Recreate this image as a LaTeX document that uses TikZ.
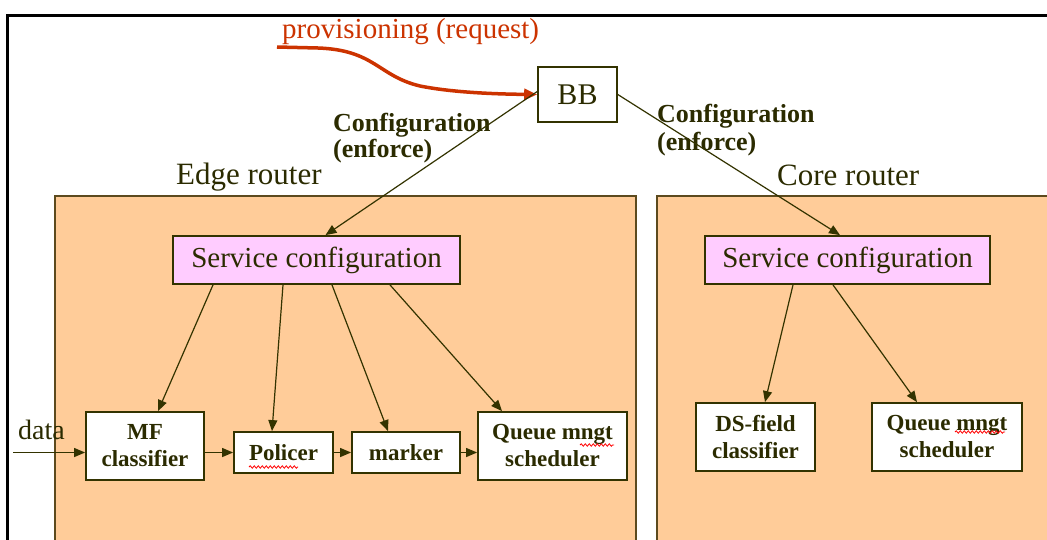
\documentclass[tikz,border=0pt]{standalone}
\usepackage{fontspec}
\setmainfont{Liberation Serif}
\usetikzlibrary{arrows.meta,calc,decorations.pathmorphing}

\definecolor{ink}{HTML}{2B2B00}
\definecolor{edgeline}{HTML}{333300}
\definecolor{routerfill}{HTML}{FFCC99}
\definecolor{routerline}{HTML}{5C4A1E}
\definecolor{svcfill}{HTML}{FFCCFF}
\definecolor{reqred}{HTML}{CC3300}

\tikzset{
  routerbox/.style={draw=routerline, line width=1.6pt, fill=routerfill},
  svcbox/.style={draw=edgeline, line width=1.8pt, fill=svcfill, inner sep=0pt,
    minimum height=48pt, text=ink, font=\fontsize{29}{31}\selectfont},
  funcbox/.style={draw=edgeline, line width=1.8pt, fill=white, inner sep=0pt,
    align=center, text=ink, font=\fontsize{23}{27}\selectfont\bfseries},
  label/.style={inner sep=0pt, text=ink},
  conn/.style={draw=edgeline, line width=1.2pt,
    -{Triangle[length=11pt,width=9pt]}},
  spell/.style={draw=red, line width=0.8pt,
    decorate, decoration={snake, amplitude=1.2pt, segment length=4pt}}
}

\begin{document}
\begin{tikzpicture}[x=1pt,y=-1pt]
  \clip (0,0) rectangle (1047,539);
  \fill[white] (0,0) rectangle (1047,539);

  % outer frame (top and left edges)
  \draw[black, line width=3pt] (7,545) -- (7,15) -- (1055,15);

  % router areas
  \draw[routerbox] (55,196) rectangle (636,560);
  \draw[routerbox] (657,196) rectangle (1070,560);
  \node[label, anchor=base west, font=\fontsize{31}{33}\selectfont] (edgelbl) at (176,184) {Edge router};
  \node[label, anchor=base west, font=\fontsize{31}{33}\selectfont] (corelbl) at (777,185) {Core router};

  % bandwidth broker
  \node[draw=edgeline, line width=1.6pt, fill=white, inner sep=0pt,
        minimum width=79pt, minimum height=55pt, text=ink,
        font=\fontsize{30}{32}\selectfont] (bb) at (577.5,94.5) {BB};

  % provisioning request
  \node[anchor=base west, inner sep=0pt, text=reqred,
        font=\fontsize{29}{31}\selectfont] (prov) at (282,38) {provisioning (request)};
  \coordinate (provstart) at (277,47);
  \draw[reqred, line width=3.5pt, -{Triangle[length=13pt,width=11pt]}]
    (provstart) -- (318,48) .. controls (375,50) and (378,76) .. (420,86)
    .. controls (450,92) and (490,94) .. (bb.west);

  % service configuration blocks
  \node[svcbox, minimum width=287pt] (svcL) at (316.5,260) {Service configuration};
  \node[svcbox, minimum width=285pt] (svcR) at (847.5,260) {Service configuration};

  % configuration labels
  \node[label, anchor=north west, align=left,
        font=\fontsize{26}{26}\selectfont\bfseries] (cfgL) at (333,113) {Configuration\\(enforce)};
  \node[label, anchor=north west, align=left,
        font=\fontsize{26}{28}\selectfont\bfseries] (cfgR) at (657,104) {Configuration\\(enforce)};

  % functional blocks, edge router
  \node[funcbox, minimum width=118pt, minimum height=68pt] (mf) at (145,446) {MF\\classifier};
  \node[funcbox, minimum width=99pt, minimum height=41pt] (pol) at (283.5,452.5) {Policer};
  \node[funcbox, minimum width=108pt, minimum height=41pt] (mark) at (406,452.5) {marker};
  \node[funcbox, minimum width=149pt, minimum height=68pt] (qL) at (552.5,446) {Queue mngt\\scheduler};

  % functional blocks, core router
  \node[funcbox, minimum width=119pt, minimum height=68pt] (ds) at (755.5,437) {DS-field\\classifier};
  \node[funcbox, minimum width=150pt, minimum height=68pt] (qR) at (947,437) {Queue mngt\\scheduler};

  % data input
  \node[label, anchor=base west, font=\fontsize{28}{30}\selectfont] (data) at (18,439) {data};
  \coordinate (datain) at (13,452.5);

  % configuration from the broker
  \draw[conn] ([yshift=3pt]bb.west) -- ([xshift=9pt]svcL.north);
  \draw[conn] (bb.east) -- ([xshift=-7.5pt]svcR.north);

  % edge router configuration
  \draw[conn] ([xshift=-103.5pt]svcL.south) -- ([xshift=13pt]mf.north);
  \draw[conn] ([xshift=-33.5pt]svcL.south) -- ([xshift=-11.5pt]pol.north);
  \draw[conn] ([xshift=15.5pt]svcL.south) -- ([xshift=-18pt]mark.north);
  \draw[conn] ([xshift=73.5pt]svcL.south) -- ([xshift=-50.5pt]qL.north);

  % core router configuration
  \draw[conn] ([xshift=-54.5pt]svcR.south) -- ([xshift=9.5pt]ds.north);
  \draw[conn] ([xshift=-14.5pt]svcR.south) -- ([xshift=-30pt]qR.north);

  % data path
  \draw[conn] (datain) -- ([yshift=-6.5pt]mf.west);
  \draw[conn] ([yshift=-6.5pt]mf.east) -- (pol.west);
  \draw[conn] (pol.east) -- (mark.west);
  \draw[conn] (mark.east) -- ([yshift=-6.5pt]qL.west);

  % spell-check marks
  \draw[spell] (249,467) -- (298,467);
  \draw[spell] (580,445) -- (614,445);
  \draw[spell] (955,432) -- (1005,432);
\end{tikzpicture}
\end{document}
